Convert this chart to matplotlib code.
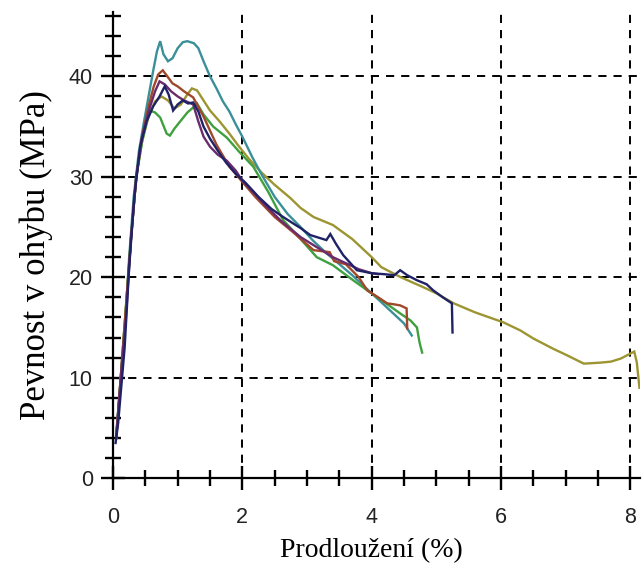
import matplotlib
matplotlib.use("Agg")

import matplotlib.pyplot as plt
from matplotlib.ticker import MultipleLocator


# prodloužení (%) a pevnost v ohybu (MPa)
teal_x = [0.05, 0.12, 0.18, 0.25, 0.32, 0.40, 0.48, 0.55, 0.62, 0.68, 0.73, 0.78, 0.85,
          0.92, 1.00, 1.08, 1.15, 1.25, 1.32, 1.40, 1.50, 1.60, 1.70, 1.80, 1.90, 2.00,
          2.15, 2.30, 2.50, 2.70, 2.90, 3.10, 3.30, 3.50, 3.70, 3.90, 4.10, 4.30, 4.50, 4.62]
teal_y = [4.5, 9.5, 14.5, 22, 28, 32.5, 35.5, 38, 40.5, 42.5, 43.5, 42.2, 41.5,
          41.8, 42.8, 43.4, 43.5, 43.3, 42.8, 41.5, 40, 38.8, 37.5, 36.5, 35.2, 34,
          32, 30.2, 28, 26.3, 25, 23.6, 22.4, 21.3, 20.2, 19, 17.8, 16.6, 15.4, 14.2]

olive_x = [0.05, 0.12, 0.20, 0.28, 0.36, 0.45, 0.55, 0.65, 0.75, 0.85, 0.95, 1.05, 1.15,
           1.22, 1.30, 1.38, 1.50, 1.65, 1.80, 1.95, 2.10, 2.30, 2.50, 2.74, 2.90, 3.10,
           3.40, 3.70, 4.00, 4.15, 4.45, 4.80, 5.00, 5.27, 5.60, 6.04, 6.30, 6.50, 6.80,
           7.03, 7.28, 7.54, 7.70, 7.85, 8.00, 8.06, 8.10, 8.14]
olive_y = [4, 10, 17, 24, 30, 33.5, 36, 37.5, 38, 37.6, 36.8, 37.2, 38.2,
           38.8, 38.6, 37.8, 36.6, 35.5, 34.3, 33, 31.8, 30.4, 29.2, 27.9, 26.9, 26,
           25.2, 23.8, 22, 21, 20, 19, 18.4, 17.4, 16.5, 15.5, 14.7, 13.9, 12.9,
           12.2, 11.4, 11.5, 11.6, 11.9, 12.4, 12.6, 11.5, 9]

navy_x = [0.04, 0.08, 0.12, 0.18, 0.25, 0.33, 0.42, 0.52, 0.62, 0.72, 0.80, 0.86, 0.93,
          1.00, 1.08, 1.16, 1.24, 1.32, 1.40, 1.50, 1.62, 1.75, 1.90, 2.05, 2.25, 2.45,
          2.63, 2.80, 2.90, 3.05, 3.20, 3.30, 3.36, 3.45, 3.56, 3.77, 4.00, 4.20, 4.35,
          4.44, 4.55, 4.70, 4.85, 4.95, 5.10, 5.24, 5.25]
navy_y = [3.5, 5.5, 8.5, 13, 21, 28, 33, 35.5, 37, 38, 39, 38.2, 36.6,
          37.2, 37.6, 37.3, 37.4, 36.5, 35, 33.8, 32.6, 31.4, 30.3, 29.4, 28, 26.8,
          26, 25.3, 24.9, 24.2, 23.9, 23.7, 24.3, 23.3, 22.2, 20.7, 20.4, 20.3, 20.2,
          20.7, 20.2, 19.7, 19.3, 18.7, 18, 17.4, 14.5]

purple_x = [0.05, 0.12, 0.20, 0.28, 0.36, 0.45, 0.55, 0.65, 0.72, 0.80, 0.90, 1.00, 1.10,
            1.24, 1.32, 1.40, 1.50, 1.62, 1.76, 1.90, 2.00, 2.15, 2.38, 2.60, 2.90, 3.10,
            3.40, 3.60, 3.80, 4.00, 4.10]
purple_y = [4, 10, 16, 24, 30, 34, 36.5, 38.5, 39.5, 39.2, 38.5, 38, 37.6,
            37.2, 35.5, 34, 33, 32.2, 31.6, 30.6, 29.6, 28.6, 27, 25.6, 24, 23.2,
            22, 21.4, 20.8, 20.4, 20.3]

red_x = [0.05, 0.12, 0.20, 0.28, 0.36, 0.45, 0.55, 0.63, 0.70, 0.77, 0.84, 0.92, 1.00,
         1.10, 1.24, 1.40, 1.60, 1.80, 2.00, 2.20, 2.50, 2.80, 3.10, 3.35, 3.42, 3.60,
         3.80, 3.93, 4.10, 4.24, 4.35, 4.44, 4.54, 4.55]
red_y = [4, 10, 17, 24, 30, 34, 37, 39, 40.2, 40.6, 40, 39.3, 39,
         38.5, 37.9, 36, 33.2, 31, 29.5, 28, 26, 24.4, 22.7, 22.5, 21.6, 21.3,
         20, 18.7, 18, 17.4, 17.3, 17.2, 16.9, 14.9]

green_x = [0.05, 0.12, 0.20, 0.28, 0.36, 0.45, 0.52, 0.57, 0.65, 0.73, 0.83, 0.88, 0.95,
           1.05, 1.15, 1.24, 1.30, 1.40, 1.55, 1.76, 1.95, 2.17, 2.40, 2.63, 2.90, 3.15,
           3.40, 3.65, 3.93, 4.20, 4.44, 4.60, 4.70, 4.74, 4.78]
green_y = [4, 10, 17, 24, 30, 33.5, 35.5, 36.6, 36.4, 35.9, 34.3, 34.1, 34.8,
           35.6, 36.4, 36.9, 37.3, 36.2, 35, 33.9, 32.5, 31, 28.5, 25.7, 23.8, 22,
           21.2, 20, 18.7, 17.5, 16.4, 15.7, 15, 13.5, 12.5]

CURVES = [
    (olive_x, olive_y, "#9c9532"),
    (teal_x, teal_y, "#3a8f98"),
    (green_x, green_y, "#3fa03f"),
    (red_x, red_y, "#a0482a"),
    (purple_x, purple_y, "#6b2c6b"),
    (navy_x, navy_y, "#1f2266"),
]


def main() -> None:
    fig = plt.figure(figsize=(6.42, 5.74), dpi=100)
    ax = fig.add_axes([0.176, 0.167, 0.821, 0.812])

    for x, y, color in CURVES:
        ax.plot(x, y, color=color, lw=1.7, solid_joinstyle="miter", zorder=3)

    ax.set_xlim(0, 8.15)
    ax.set_ylim(0, 46.4)

    ax.xaxis.set_major_locator(MultipleLocator(2))
    ax.xaxis.set_minor_locator(MultipleLocator(0.5))
    ax.yaxis.set_major_locator(MultipleLocator(10))
    ax.yaxis.set_minor_locator(MultipleLocator(2))

    ax.grid(True, which="major", color="black", lw=1.4,
            linestyle=(0, (4.2, 3.6)), zorder=1)

    for side in ("top", "right"):
        ax.spines[side].set_visible(False)
    for side in ("left", "bottom"):
        ax.spines[side].set_linewidth(1.6)
        ax.spines[side].set_zorder(4)

    ax.tick_params(which="major", direction="inout", length=17, width=1.7,
                   labelsize=15.5, colors="black")
    ax.tick_params(which="minor", direction="inout", length=11, width=1.7)
    ax.tick_params(axis="y", which="major", pad=6)
    ax.tick_params(axis="x", which="major", pad=12)
    for lbl in ax.get_xticklabels() + ax.get_yticklabels():
        lbl.set_family("Liberation Sans")
        lbl.set_color("#222222")
    for t in ax.xaxis.get_major_ticks() + ax.yaxis.get_major_ticks():
        t.tick1line.set_clip_on(False)

    ax.set_xlabel("Prodloužení (%)", family="Liberation Serif", fontsize=20)
    ax.set_ylabel("Pevnost v ohybu (MPa)", family="Liberation Serif", fontsize=25)
    ax.xaxis.set_label_coords(0.491, -0.155)
    ax.xaxis.label.set_verticalalignment("center")
    ax.yaxis.set_label_coords(-0.146, 0.478)
    ax.yaxis.label.set_verticalalignment("center")

    fig.savefig("out.png", dpi=100)
    plt.close(fig)


if __name__ == "__main__":
    main()
